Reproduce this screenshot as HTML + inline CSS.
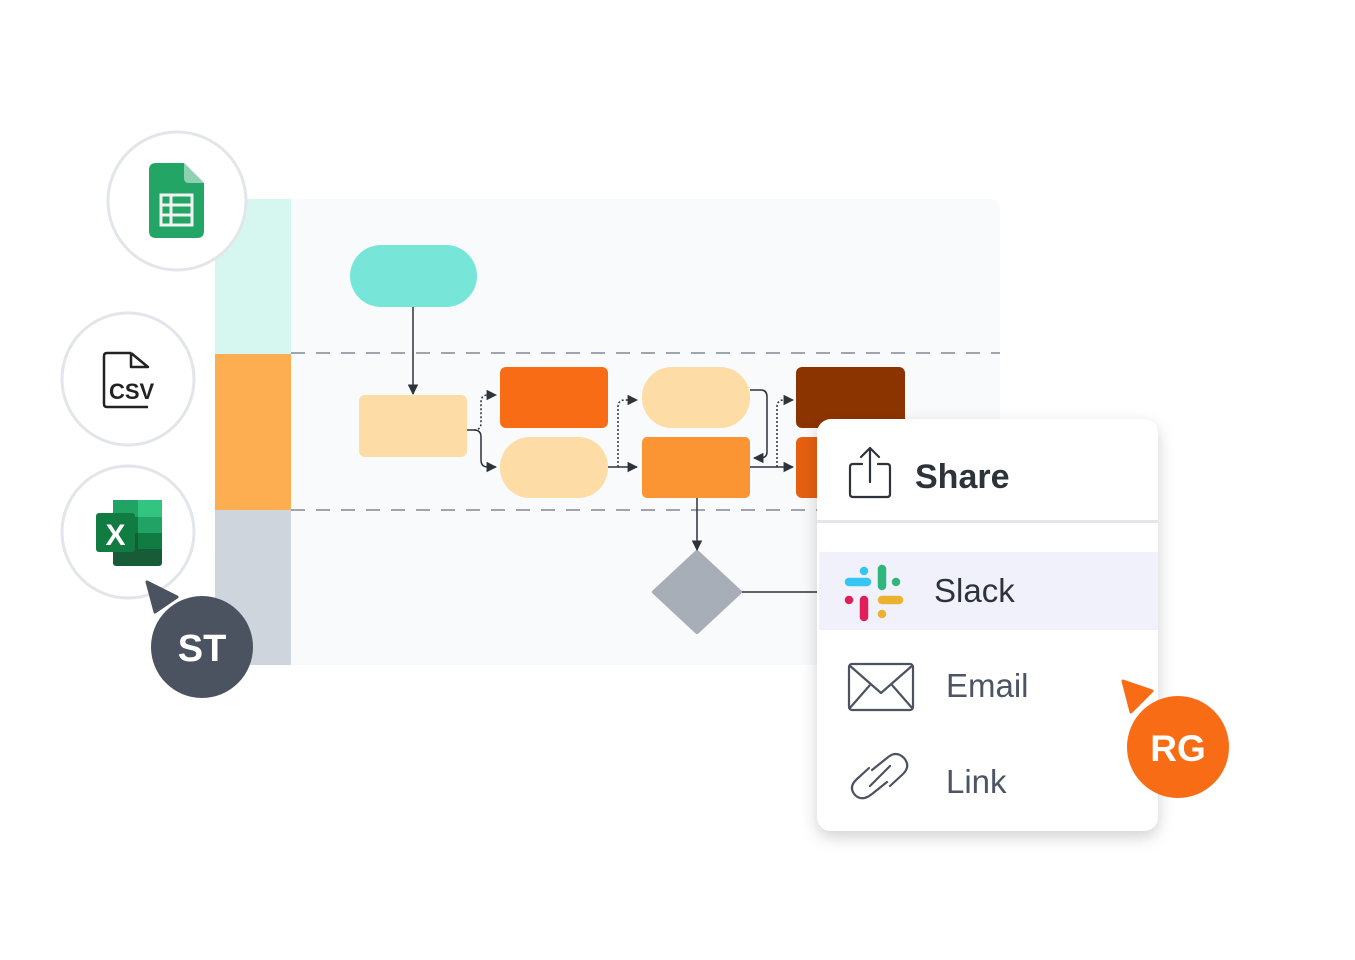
<!DOCTYPE html>
<html><head><style>
body{margin:0;background:#fff;width:1355px;height:960px;overflow:hidden}
svg{display:block}
text{font-family:"Liberation Sans",sans-serif}
</style></head><body>
<svg width="1355" height="960" viewBox="0 0 1355 960">
<defs>
<marker id="a" viewBox="0 0 10 10" refX="9" refY="5" markerWidth="7" markerHeight="7" orient="auto"><path d="M0,0 L10,5 L0,10z" fill="#2d333a"/></marker>
<filter id="sh" x="-20%" y="-20%" width="140%" height="140%"><feDropShadow dx="0" dy="6" stdDeviation="8" flood-color="#000" flood-opacity="0.18"/></filter>
</defs>
<!-- board -->
<path d="M215,199 H990 Q1000,199 1000,209 V665 H215z" fill="#f8fafc"/>
<rect x="215" y="199" width="76" height="155" fill="#d5f7f0"/>
<rect x="215" y="354" width="76" height="156" fill="#fdae50"/>
<rect x="215" y="510" width="76" height="155" fill="#cfd5dd"/>
<line x1="291" y1="353" x2="1000" y2="353" stroke="#6b7280" stroke-width="1.3" stroke-dasharray="14,11"/>
<line x1="291" y1="510" x2="1000" y2="510" stroke="#6b7280" stroke-width="1.3" stroke-dasharray="14,11"/>
<!-- shapes -->
<rect x="350" y="245" width="127" height="62" rx="31" fill="#77e6d9"/>
<rect x="359" y="395" width="108" height="62" rx="6" fill="#fddca6"/>
<rect x="500" y="367" width="108" height="61" rx="6" fill="#f76c15"/>
<rect x="500" y="437" width="108" height="61" rx="30" fill="#fddca6"/>
<rect x="642" y="367" width="108" height="61" rx="30" fill="#fddca6"/>
<rect x="642" y="437" width="108" height="61" rx="5" fill="#fb9433"/>
<rect x="796" y="367" width="109" height="61" rx="6" fill="#8c3400"/>
<rect x="796" y="437" width="60" height="61" rx="6" fill="#e55f10"/>
<path d="M697,552 L740,592 L697,632 L654,592z" fill="#a8aeb7" stroke="#a8aeb7" stroke-width="4" stroke-linejoin="round"/>
<line x1="742" y1="592" x2="820" y2="592" stroke="#2d333a" stroke-width="1.5"/>
<!-- connectors -->
<g fill="none" stroke="#2d333a" stroke-width="1.5">
<line x1="413" y1="307" x2="413" y2="394" marker-end="url(#a)"/>
<path d="M467,430 H474 Q481,430 481,437 V460 Q481,467 488,467 H496" marker-end="url(#a)"/>
<path d="M474,430 Q481,430 481,423 V402 Q481,395 488,395 H496" stroke-dasharray="2,2" marker-end="url(#a)"/>
<line x1="608" y1="467" x2="637" y2="467" marker-end="url(#a)"/>
<path d="M618,467 V407 Q618,400 625,400 H637" stroke-dasharray="2,2" marker-end="url(#a)"/>
<path d="M750,390 H761 Q767,390 767,397 V452 Q767,458 760,458 H754" marker-end="url(#a)"/>
<line x1="750" y1="467" x2="793" y2="467" marker-end="url(#a)"/>
<path d="M777,467 V407 Q777,400 784,400 H793" stroke-dasharray="2,2" marker-end="url(#a)"/>
<line x1="697" y1="498" x2="697" y2="550" marker-end="url(#a)"/>
</g>
<!-- left circles -->
<circle cx="177" cy="201" r="69" fill="#fff" stroke="#e2e5ea" stroke-width="3"/>
<path d="M156,163 H184 L204,183 V231 Q204,238 197,238 H156 Q149,238 149,231 V170 Q149,163 156,163z" fill="#23a566"/>
<path d="M184,163 L204,183 H189 Q184,183 184,178z" fill="#8ed1b1"/>
<rect x="161" y="195" width="31" height="30" fill="none" stroke="#f1f1f1" stroke-width="3"/>
<line x1="161" y1="205" x2="192" y2="205" stroke="#f1f1f1" stroke-width="3"/>
<line x1="161" y1="215" x2="192" y2="215" stroke="#f1f1f1" stroke-width="3"/>
<line x1="171" y1="195" x2="171" y2="225" stroke="#f1f1f1" stroke-width="3"/>
<circle cx="128" cy="379" r="66" fill="#fff" stroke="#e2e5ea" stroke-width="3"/>
<path d="M131,353 H107 Q104,353 104,356 V404 Q104,407 107,407 H148 M131,353 V367 H148 L131,353" fill="none" stroke="#222" stroke-width="2.5" stroke-linejoin="round"/>
<text x="109" y="399" font-size="22" font-weight="bold" fill="#222">CSV</text>
<circle cx="128" cy="532" r="66" fill="#fff" stroke="#e2e5ea" stroke-width="3"/>
<rect x="113" y="500" width="49" height="66" rx="3" fill="#185c37"/>
<rect x="113" y="500" width="49" height="17" fill="#21a366"/>
<rect x="138" y="500" width="24" height="17" fill="#33c481"/>
<rect x="138" y="517" width="24" height="16" fill="#21a366"/>
<rect x="113" y="517" width="25" height="16" fill="#107c41"/>
<rect x="138" y="533" width="24" height="16" fill="#107c41"/>
<rect x="96" y="513" width="39" height="39" rx="3" fill="#107c41"/>
<text x="115.5" y="545" font-size="30" font-weight="bold" fill="#fff" text-anchor="middle">X</text>
<path d="M147,582 L177,597 L155,612z" fill="#4b5260" stroke="#4b5260" stroke-width="3" stroke-linejoin="round"/>
<circle cx="202" cy="647" r="51" fill="#4b5260"/>
<text x="202" y="661" font-size="38" font-weight="bold" fill="#fff" text-anchor="middle">ST</text>
<!-- panel -->
<rect x="817" y="419" width="341" height="412" rx="14" fill="#fff" filter="url(#sh)"/>
<rect x="817" y="520" width="341" height="3" fill="#e3e7ec"/>
<rect x="819" y="552" width="339" height="78" fill="#f1f1fc"/>
<g fill="none" stroke="#2d333a" stroke-width="2.2" stroke-linecap="round" stroke-linejoin="round">
<path d="M862,464 H853 Q850,464 850,467 V494 Q850,497 853,497 H887 Q890,497 890,494 V467 Q890,464 887,464 H878"/>
<path d="M870,482 V448 M861,457 L870,448 L879,457"/>
</g>
<text x="915" y="488" font-size="34" font-weight="bold" fill="#2d333a">Share</text>
<g stroke-linecap="round" stroke-width="8.5" fill="none">
<line x1="849" y1="582" x2="867" y2="582" stroke="#36c5f0"/><line x1="864" y1="571" x2="864" y2="571" stroke="#36c5f0"/>
<line x1="882" y1="569" x2="882" y2="586" stroke="#2eb67d"/><line x1="896" y1="582" x2="896" y2="582" stroke="#2eb67d"/>
<line x1="864" y1="600" x2="864" y2="617" stroke="#e01e5a"/><line x1="849" y1="600" x2="849" y2="600" stroke="#e01e5a"/>
<line x1="882" y1="600" x2="899" y2="600" stroke="#ecb22e"/><line x1="882" y1="614" x2="882" y2="614" stroke="#ecb22e"/>
</g>
<text x="934" y="602" font-size="33" fill="#2d333a">Slack</text>
<g fill="none" stroke="#4b5260" stroke-width="2.2" stroke-linejoin="round">
<rect x="849" y="664" width="64" height="46" rx="3"/>
<path d="M849,665 L881,693 L913,665 M849,709 L870,685 M913,709 L892,685"/>
</g>
<text x="946" y="697" font-size="33" fill="#4b5563">Email</text>
<g fill="none" stroke="#4b5260" stroke-width="2.2" stroke-linecap="round">
<path d="M872,770 L887,758 Q896,750 904,758 Q911,766 903,774 L890,786"/>
<path d="M887,782 L872,794 Q862,802 855,795 Q848,787 857,779 L869,768"/>
<line x1="870" y1="786" x2="890" y2="766"/>
</g>
<text x="946" y="793" font-size="33" fill="#4b5563">Link</text>
<path d="M1123,681 L1152,691 L1131,712z" fill="#f76c15" stroke="#f76c15" stroke-width="3" stroke-linejoin="round"/>
<circle cx="1178" cy="747" r="51" fill="#f76c15"/>
<text x="1178" y="761" font-size="37" font-weight="bold" fill="#fff" text-anchor="middle">RG</text>
</svg>
</body></html>
